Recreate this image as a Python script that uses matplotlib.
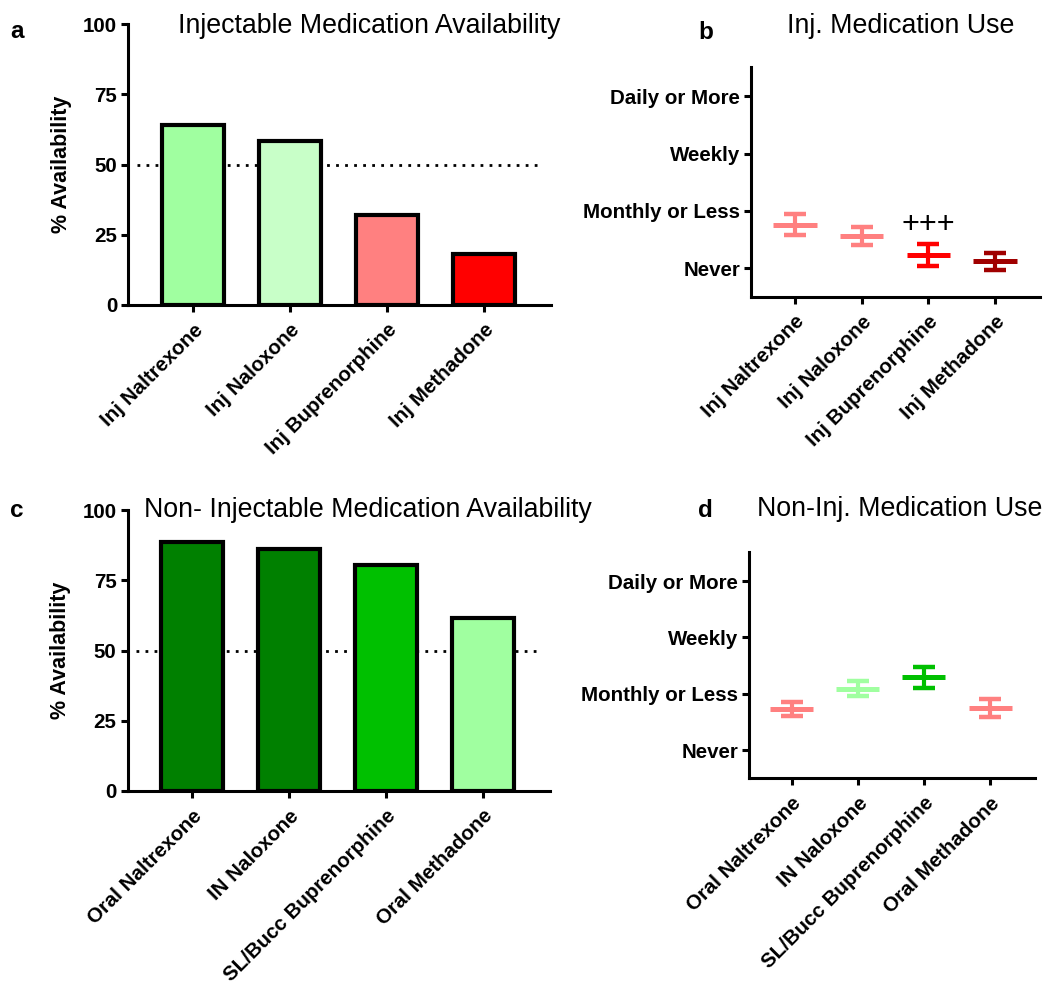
import matplotlib
matplotlib.use("Agg")
import matplotlib.pyplot as plt
import numpy as np

plt.rcParams['font.family'] = ['Liberation Sans', 'DejaVu Sans']

# ---- data ----
inj_labels = ['Inj Naltrexone', 'Inj Naloxone', 'Inj Buprenorphine', 'Inj Methadone']
inj_avail = [64, 58.5, 32, 18]
inj_bar_colors = ['#A0FFA0', '#C8FFC8', '#FF8080', '#FF0000']

noninj_labels = ['Oral Naltrexone', 'IN Naloxone', 'SL/Bucc Buprenorphine', 'Oral Methadone']
noninj_avail = [88.5, 86, 80.5, 61.5]
noninj_bar_colors = ['#008000', '#008000', '#00C000', '#A0FFA0']

use_levels = ['Never', 'Monthly or Less', 'Weekly', 'Daily or More']
inj_use_mean = [0.76, 0.56, 0.23, 0.12]
inj_use_sem = [0.185, 0.155, 0.185, 0.15]
inj_use_colors = ['#FF8080', '#FF8080', '#FF0000', '#A00000']

noninj_use_mean = [0.73, 1.09, 1.29, 0.75]
noninj_use_sem = [0.125, 0.13, 0.18, 0.155]
noninj_use_colors = ['#FF8080', '#A0FFA0', '#00C000', '#FF8080']

W, H = 1048, 988
fig = plt.figure(figsize=(W / 100, H / 100), dpi=100)


def px_axes(l, t, r, b):
    return fig.add_axes([l / W, 1 - b / H, (r - l) / W, (b - t) / H])


TICK_FS = 14.8
SPINE_W = 2.2


def style_axes(ax):
    for s in ['top', 'right']:
        ax.spines[s].set_visible(False)
    for s in ['left', 'bottom']:
        ax.spines[s].set_linewidth(SPINE_W)
    ax.tick_params(direction='out', length=5, width=SPINE_W, labelsize=TICK_FS, pad=3)
    ax.tick_params(axis='x', pad=6)


def set_xlabels(ax, labels):
    x = np.arange(len(labels))
    ax.set_xticks(x)
    ax.set_xticklabels(labels, rotation=45, ha='right', va='top',
                       rotation_mode='anchor', fontweight='bold', fontsize=TICK_FS)


def bar_panel(ax, labels, values, colors, xlim):
    x = np.arange(len(labels))
    ax.axhline(50, xmin=0.02, xmax=0.982, color='black', lw=2,
               linestyle=(0, (1, 2.25)), zorder=1)
    ax.bar(x, values, width=0.64, color=colors, edgecolor='black', linewidth=3, zorder=2)
    ax.set_xlim(*xlim)
    ax.set_ylim(0, 100)
    ax.set_yticks([0, 25, 50, 75, 100])
    style_axes(ax)
    for t in ax.get_yticklabels():
        t.set_fontweight('bold')
    set_xlabels(ax, labels)
    ax.set_ylabel('% Availability', fontsize=15.5, fontweight='bold', labelpad=8)


def use_panel(ax, labels, means, sems, colors, xlim):
    x = np.arange(len(labels))
    for xi, m, s, c in zip(x, means, sems, colors):
        ax.errorbar(xi, m, yerr=s, fmt='none', ecolor=c, elinewidth=3,
                    capsize=7.8, capthick=3.2, zorder=3)
        ax.errorbar(xi, m, xerr=0.325, fmt='none', ecolor=c, elinewidth=3.6,
                    capsize=0, zorder=4)
    ax.set_xlim(*xlim)
    ax.set_ylim(-0.5, 3.52)
    ax.set_yticks(range(len(use_levels)))
    ax.set_yticklabels(use_levels, fontweight='bold', fontsize=TICK_FS)
    style_axes(ax)
    set_xlabels(ax, labels)


ax_a = px_axes(128.3, 24.3, 551, 305)
bar_panel(ax_a, inj_labels, inj_avail, inj_bar_colors, (-0.671, 3.69))

ax_c = px_axes(127.7, 510, 550, 791)
bar_panel(ax_c, noninj_labels, noninj_avail, noninj_bar_colors, (-0.668, 3.69))

ax_b = px_axes(751, 66.7, 1040, 296.7)
use_panel(ax_b, inj_labels, inj_use_mean, inj_use_sem, inj_use_colors, (-0.66, 3.675))
ax_b.text(2, 0.75, '+++', ha='center', va='center', fontsize=22, color='black')

ax_d = px_axes(749, 551.7, 1035, 778.3)
use_panel(ax_d, noninj_labels, noninj_use_mean, noninj_use_sem, noninj_use_colors, (-0.646, 3.68))

# titles
TITLE_FS = 19.3
fig.text(178 / W, 1 - 33.3 / H, 'Injectable Medication Availability', fontsize=TITLE_FS,
         ha='left', va='baseline')
fig.text(143.5 / W, 1 - 516.7 / H, 'Non- Injectable Medication Availability', fontsize=TITLE_FS,
         ha='left', va='baseline')
fig.text(786.7 / W, 1 - 33.3 / H, 'Inj. Medication Use', fontsize=TITLE_FS,
         ha='left', va='baseline')
fig.text(756.7 / W, 1 - 516 / H, 'Non-Inj. Medication Use', fontsize=TITLE_FS,
         ha='left', va='baseline')

# panel letters
LET_FS = 17.5
fig.text(10 / W, 1 - 38.3 / H, 'a', fontsize=LET_FS, fontweight='bold', ha='left', va='baseline')
fig.text(698.3 / W, 1 - 39.3 / H, 'b', fontsize=LET_FS, fontweight='bold', ha='left', va='baseline')
fig.text(10 / W, 1 - 516.7 / H, 'c', fontsize=LET_FS, fontweight='bold', ha='left', va='baseline')
fig.text(697.7 / W, 1 - 516.7 / H, 'd', fontsize=LET_FS, fontweight='bold', ha='left', va='baseline')

fig.savefig('out.png', dpi=100)
